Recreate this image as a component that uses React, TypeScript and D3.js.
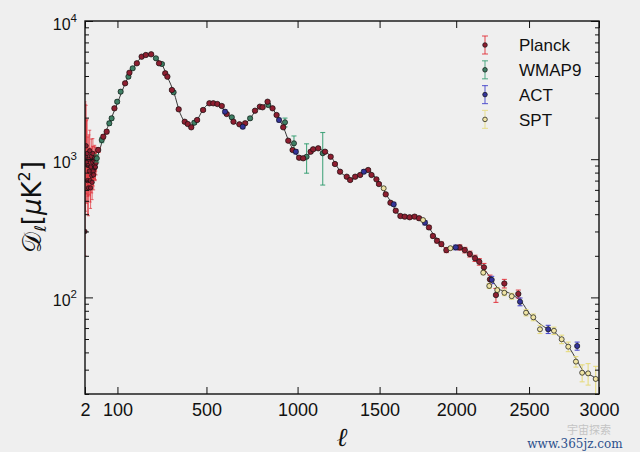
import { useEffect, useRef } from "react";
import * as d3 from "d3";

// Planck low-ell (unbinned) points, with lower / upper ends of their error bars
const planckLowEll = [2, 3, 4, 5, 6, 7, 8, 9, 10, 11, 12, 13, 14, 15, 16, 17, 18, 19, 20, 21, 22, 23, 24, 25, 26, 27, 28, 29];
const planckLowD = [300, 1050, 1250, 950, 1100, 700, 900, 620, 1000, 820, 1150, 700, 620, 880, 1050, 760, 680, 950, 1100, 820, 770, 980, 900, 1020, 870, 880, 1000, 940];
const planckLowLo = [200, 420, 560, 480, 600, 400, 540, 390, 650, 550, 800, 490, 440, 640, 780, 570, 510, 730, 860, 640, 600, 780, 720, 830, 700, 710, 820, 770];
const planckLowHi = [2600, 2500, 2450, 1900, 1950, 1250, 1450, 1000, 1500, 1200, 1620, 1000, 880, 1200, 1400, 1010, 900, 1240, 1410, 1050, 980, 1230, 1120, 1260, 1080, 1090, 1220, 1140];

// Planck binned
const planckEll = [35, 51, 62, 89, 129, 146, 176, 196, 214, 237, 272, 300, 310, 331, 363, 392, 407, 424, 453, 483,
  515, 535, 556, 579, 605, 641, 673, 704, 758, 785, 800, 828, 856, 879, 917, 946, 971, 1009, 1033, 1077,
  1092, 1122, 1163, 1197, 1223, 1254, 1295, 1316, 1347, 1378, 1428, 1449, 1480, 1496, 1539, 1569, 1603, 1633, 1661, 1693,
  1725, 1754, 1819, 1845, 1872, 1901, 1934, 2024, 2058, 2092, 2127, 2156, 2188, 2229, 2270, 2328, 2425];
const planckD = [1166, 1455, 1581, 2335, 3542, 4225, 4942, 5517, 5675, 5741, 4942, 4183, 3954, 3168, 2296, 1867, 1797, 1701, 1921, 2270,
  2538, 2538, 2508, 2427, 2123, 1867, 1788, 1819, 2244, 2399, 2375, 2606, 2335, 2088, 1701, 1361, 1166, 1025, 1015, 1133,
  1179, 1199, 1133, 1042, 923, 812, 747, 707, 747, 769, 835, 769, 715, 661, 557, 484, 424, 388, 384, 380,
  384, 374, 321, 278, 257, 243, 220, 230, 220, 206, 192, 181, 165, 135, 104, 126, 106];
const planckErr = [45, 50, 50, 60, 80, 90, 100, 110, 110, 110, 100, 90, 85, 70, 55, 45, 40, 40, 45, 50,
  55, 55, 55, 50, 45, 40, 40, 40, 45, 45, 45, 50, 45, 40, 35, 30, 28, 25, 25, 25,
  25, 25, 25, 22, 20, 18, 16, 16, 16, 16, 18, 17, 16, 15, 13, 12, 11, 10, 10, 10,
  11, 11, 10, 9, 9, 9, 9, 10, 10, 10, 10, 10, 11, 10, 12, 9, 7];

// WMAP9
const wmapEll = [31, 46, 71, 79, 99, 112, 142, 159, 258, 285, 339, 439, 632, 731, 832, 927, 979, 1053, 1149];
const wmapD = [1015, 1377, 1819, 1977, 2606, 3080, 3954, 4547, 5373, 4885, 3050, 1837, 2010, 1977, 2467, 1849, 1303, 1042, 1105];
const wmapErr = [60, 60, 60, 60, 70, 80, 90, 100, 110, 100, 80, 50, 45, 50, 70, 135, 170, 250, 455];

// ACT
const actEll = [596, 691, 893, 990, 1401, 1590, 1793, 1997, 2241, 2437, 2635, 2842];
const actD = [2207, 1719, 1921, 1133, 812, 472, 347, 230, 134, 93, 58.8, 44.5];
const actErr = [70, 55, 60, 40, 25, 15, 12, 9, 8, 6, 4, 3];

// SPT
const sptEll = [1526, 1780, 1961, 2183, 2224, 2279, 2328, 2379, 2479, 2530, 2577, 2676, 2731, 2778, 2833, 2878, 2921, 2976];
const sptD = [616, 363, 227, 151, 121, 113, 108, 102, 77.5, 71.8, 58.8, 57.4, 49.8, 44, 34.3, 28.5, 28.2, 25.7];
const sptErr = [15, 9, 6, 5, 5, 5, 5, 5, 4, 4, 4, 3.5, 3.5, 3.5, 3, 4, 5, 6];

// best-fit model curve
const modelEll = [2, 10, 20, 30, 40, 50, 70, 100, 130, 160, 190, 220, 240, 260, 285, 310, 340, 370, 400, 425,
  450, 480, 510, 540, 570, 600, 640, 675, 700, 730, 760, 800, 825, 850, 880, 920, 950, 980, 1010, 1040,
  1080, 1120, 1160, 1200, 1230, 1260, 1300, 1320, 1360, 1400, 1430, 1460, 1500, 1540, 1580, 1620, 1660, 1720, 1760, 1800,
  1850, 1900, 1940, 1990, 2030, 2090, 2150, 2200, 2240, 2290, 2340, 2400, 2450, 2500, 2550, 2620, 2680, 2730, 2780, 2840,
  2890, 2950, 3000];
const modelD = [1000, 880, 900, 1000, 1180, 1400, 1800, 2550, 3550, 4550, 5350, 5750, 5740, 5350, 4850, 3950, 3050, 2150, 1800, 1700,
  1880, 2250, 2500, 2540, 2450, 2200, 1880, 1760, 1790, 1960, 2230, 2420, 2560, 2380, 2080, 1680, 1340, 1150, 1030, 1020,
  1120, 1190, 1140, 1040, 910, 800, 740, 710, 750, 810, 830, 770, 670, 560, 475, 400, 382, 380, 370, 340,
  285, 245, 222, 228, 228, 205, 183, 155, 135, 115, 110, 102, 92, 77, 68, 60, 56, 50, 44, 35,
  29, 27, 25];

const xTicks = [2, 100, 500, 1000, 1500, 2000, 2500, 3000];
const yMajor = [100, 1000, 10000];
const yMajorExp = ["2", "3", "4"];
const yMinor = [20, 30, 40, 50, 60, 70, 80, 90, 200, 300, 400, 500, 600, 700, 800, 900, 2000, 3000, 4000, 5000, 6000, 7000, 8000, 9000];

const legendNames = ["Planck", "WMAP9", "ACT", "SPT"];

const FONT = "'Liberation Sans', Arial, sans-serif";

export default function App() {
  const svgRef = useRef<SVGSVGElement | null>(null);

  useEffect(() => {
    if (!svgRef.current) return;
    const root = d3.select(svgRef.current);
    root.selectAll("*").remove();

    const width = 640;
    const height = 452;
    const margin = { top: 21, right: 41, bottom: 58, left: 85 };
    const innerW = width - margin.left - margin.right;
    const innerH = height - margin.top - margin.bottom;

    const x = d3.scalePow().exponent(0.8).domain([2, 3000]).range([margin.left, width - margin.right]);
    const y = d3.scaleLog().domain([20, 10000]).range([height - margin.bottom, margin.top]);

    root.append("rect").attr("width", width).attr("height", height).attr("fill", "#efefef");

    root.append("clipPath").attr("id", "plot-clip")
      .append("rect")
      .attr("x", margin.left).attr("y", margin.top)
      .attr("width", innerW).attr("height", innerH);

    const plot = root.append("g").attr("clip-path", "url(#plot-clip)");

    // model line
    const line = d3.line<number>()
      .x((_, i) => x(modelEll[i]))
      .y((d) => y(d))
      .curve(d3.curveMonotoneX);
    plot.append("path")
      .attr("d", line(modelD))
      .attr("fill", "none")
      .attr("stroke", "#222")
      .attr("stroke-width", 0.9);

    const styles = {
      planck: { bar: "#e0202a", fill: "#8e1e30" },
      wmap: { bar: "#2d9a6c", fill: "#3e7f64" },
      act: { bar: "#3434c8", fill: "#34349a" },
      spt: { bar: "#e6da7a", fill: "#efe4a4" },
    };

    const drawBars = (ell: number[], lo: number[], hi: number[], color: string, op: number, cap: number) => {
      const g = plot.append("g").attr("stroke", color).attr("stroke-opacity", op).attr("stroke-width", 1.1);
      ell.forEach((l, i) => {
        const cx = x(l);
        g.append("line").attr("x1", cx).attr("x2", cx).attr("y1", y(Math.max(lo[i], 1))).attr("y2", y(hi[i]));
        g.append("line").attr("x1", cx - cap).attr("x2", cx + cap).attr("y1", y(Math.max(lo[i], 1))).attr("y2", y(Math.max(lo[i], 1)));
        g.append("line").attr("x1", cx - cap).attr("x2", cx + cap).attr("y1", y(hi[i])).attr("y2", y(hi[i]));
      });
    };

    const drawPoints = (ell: number[], vals: number[], fill: string, r: number) => {
      plot.append("g")
        .selectAll("circle")
        .data(vals)
        .join("circle")
        .attr("cx", (_, i) => x(ell[i]))
        .attr("cy", (d) => y(d))
        .attr("r", r)
        .attr("fill", fill)
        .attr("stroke", "#111")
        .attr("stroke-width", 0.7);
    };

    const minus = (v: number[], e: number[]) => v.map((d, i) => d - e[i]);
    const plus = (v: number[], e: number[]) => v.map((d, i) => d + e[i]);

    // low-ell Planck
    drawBars(planckLowEll, planckLowLo, planckLowHi, styles.planck.bar, 0.6, 1.5);
    drawPoints(planckLowEll, planckLowD, styles.planck.fill, 2.2);

    drawBars(wmapEll, minus(wmapD, wmapErr), plus(wmapD, wmapErr), styles.wmap.bar, 0.85, 2.5);
    drawBars(planckEll, minus(planckD, planckErr), plus(planckD, planckErr), styles.planck.bar, 0.8, 2.5);
    drawBars(actEll, minus(actD, actErr), plus(actD, actErr), styles.act.bar, 0.85, 2.5);
    drawBars(sptEll, minus(sptD, sptErr), plus(sptD, sptErr), styles.spt.bar, 0.95, 2.5);

    drawPoints(wmapEll, wmapD, styles.wmap.fill, 2.6);
    drawPoints(planckEll, planckD, styles.planck.fill, 2.7);
    drawPoints(actEll, actD, styles.act.fill, 2.6);
    drawPoints(sptEll, sptD, styles.spt.fill, 2.5);

    // axes: inward ticks on all four sides
    const axisColor = "#111";
    const bottom = root.append("g")
      .attr("transform", `translate(0,${height - margin.bottom})`)
      .call(d3.axisBottom(x).tickValues(xTicks).tickSize(-7).tickPadding(9).tickFormat((d) => `${d}`));
    bottom.attr("color", axisColor).selectAll("text").attr("font-size", "18px").attr("font-family", FONT).attr("fill", "#111");

    root.append("g")
      .attr("transform", `translate(0,${margin.top})`)
      .call(d3.axisTop(x).tickValues(xTicks).tickSize(-7).tickFormat(() => ""))
      .attr("color", axisColor);

    root.append("g")
      .attr("transform", `translate(${margin.left},0)`)
      .call(d3.axisLeft(y).tickValues(yMajor).tickSize(-8).tickFormat(() => ""))
      .attr("color", axisColor);
    root.append("g")
      .attr("transform", `translate(${margin.left},0)`)
      .call(d3.axisLeft(y).tickValues(yMinor).tickSize(-4).tickFormat(() => ""))
      .attr("color", axisColor);
    root.append("g")
      .attr("transform", `translate(${width - margin.right},0)`)
      .call(d3.axisRight(y).tickValues(yMajor).tickSize(-8).tickFormat(() => ""))
      .attr("color", axisColor);
    root.append("g")
      .attr("transform", `translate(${width - margin.right},0)`)
      .call(d3.axisRight(y).tickValues(yMinor).tickSize(-4).tickFormat(() => ""))
      .attr("color", axisColor);

    root.selectAll(".domain").remove();

    root.append("rect")
      .attr("x", margin.left).attr("y", margin.top)
      .attr("width", innerW).attr("height", innerH)
      .attr("fill", "none").attr("stroke", "#111").attr("stroke-width", 1.4);

    // y tick labels 10^n
    yMajor.forEach((v, i) => {
      const t = root.append("text")
        .attr("x", margin.left - 8)
        .attr("y", y(v) + 8.5)
        .attr("text-anchor", "end")
        .attr("font-family", FONT)
        .attr("font-size", 16)
        .attr("fill", "#111");
      t.append("tspan").text("10");
      t.append("tspan").attr("dy", -8).attr("font-size", 11.5).text(yMajorExp[i]);
    });

    // axis titles
    root.append("text")
      .attr("x", (margin.left + width - margin.right) / 2)
      .attr("y", 446)
      .attr("text-anchor", "middle")
      .attr("font-family", "'DejaVu Serif', serif")
      .attr("font-style", "italic")
      .attr("font-size", 26)
      .attr("fill", "#111")
      .text("ℓ");

    const yl = root.append("text")
      .attr("transform", "translate(41,207) rotate(-90)")
      .attr("text-anchor", "middle")
      .attr("font-family", "'DejaVu Sans', sans-serif")
      .attr("font-size", 26)
      .attr("fill", "#111");
    yl.append("tspan").text("𝒟");
    yl.append("tspan").attr("dy", 5).attr("font-size", 16).attr("font-style", "italic").text("ℓ");
    yl.append("tspan").attr("dy", -5).text("[");
    yl.append("tspan").attr("font-style", "italic").text("μ");
    yl.append("tspan").text("K");
    yl.append("tspan").attr("dy", -11).attr("font-size", 16).text("2");
    yl.append("tspan").attr("dy", 11).text("]");

    // legend
    const legendColors = [styles.planck, styles.wmap, styles.act, styles.spt];
    const legend = root.append("g");
    legendNames.forEach((name, i) => {
      const ly = 45 + i * 24.8;
      const lx = 485;
      const c = legendColors[i];
      const g = legend.append("g").attr("stroke", c.bar).attr("stroke-opacity", 0.7).attr("stroke-width", 1.2);
      g.append("line").attr("x1", lx).attr("x2", lx).attr("y1", ly - 9).attr("y2", ly + 9);
      g.append("line").attr("x1", lx - 3).attr("x2", lx + 3).attr("y1", ly - 9).attr("y2", ly - 9);
      g.append("line").attr("x1", lx - 3).attr("x2", lx + 3).attr("y1", ly + 9).attr("y2", ly + 9);
      legend.append("circle").attr("cx", lx).attr("cy", ly).attr("r", 2.3)
        .attr("fill", c.fill).attr("stroke", "#111").attr("stroke-width", 0.7);
      legend.append("text")
        .attr("x", 519).attr("y", ly).attr("dy", "0.36em")
        .attr("font-family", FONT).attr("font-size", 17).attr("fill", "#111")
        .text(name);
    });

    // watermark
    root.append("text")
      .attr("x", 589).attr("y", 434).attr("text-anchor", "middle")
      .attr("font-family", "'Noto Sans CJK SC', sans-serif").attr("font-size", 11)
      .attr("fill", "#c4c4c4").text("宇宙探索");
    root.append("text")
      .attr("x", 575).attr("y", 448).attr("text-anchor", "middle")
      .attr("font-family", "'DejaVu Serif', serif").attr("font-size", 12)
      .attr("fill", "#2c4f8c").text("www.365jz.com");
  }, []);

  return <svg ref={svgRef} width={640} height={452} style={{ position: "absolute", left: 0, top: 0 }} />;
}
